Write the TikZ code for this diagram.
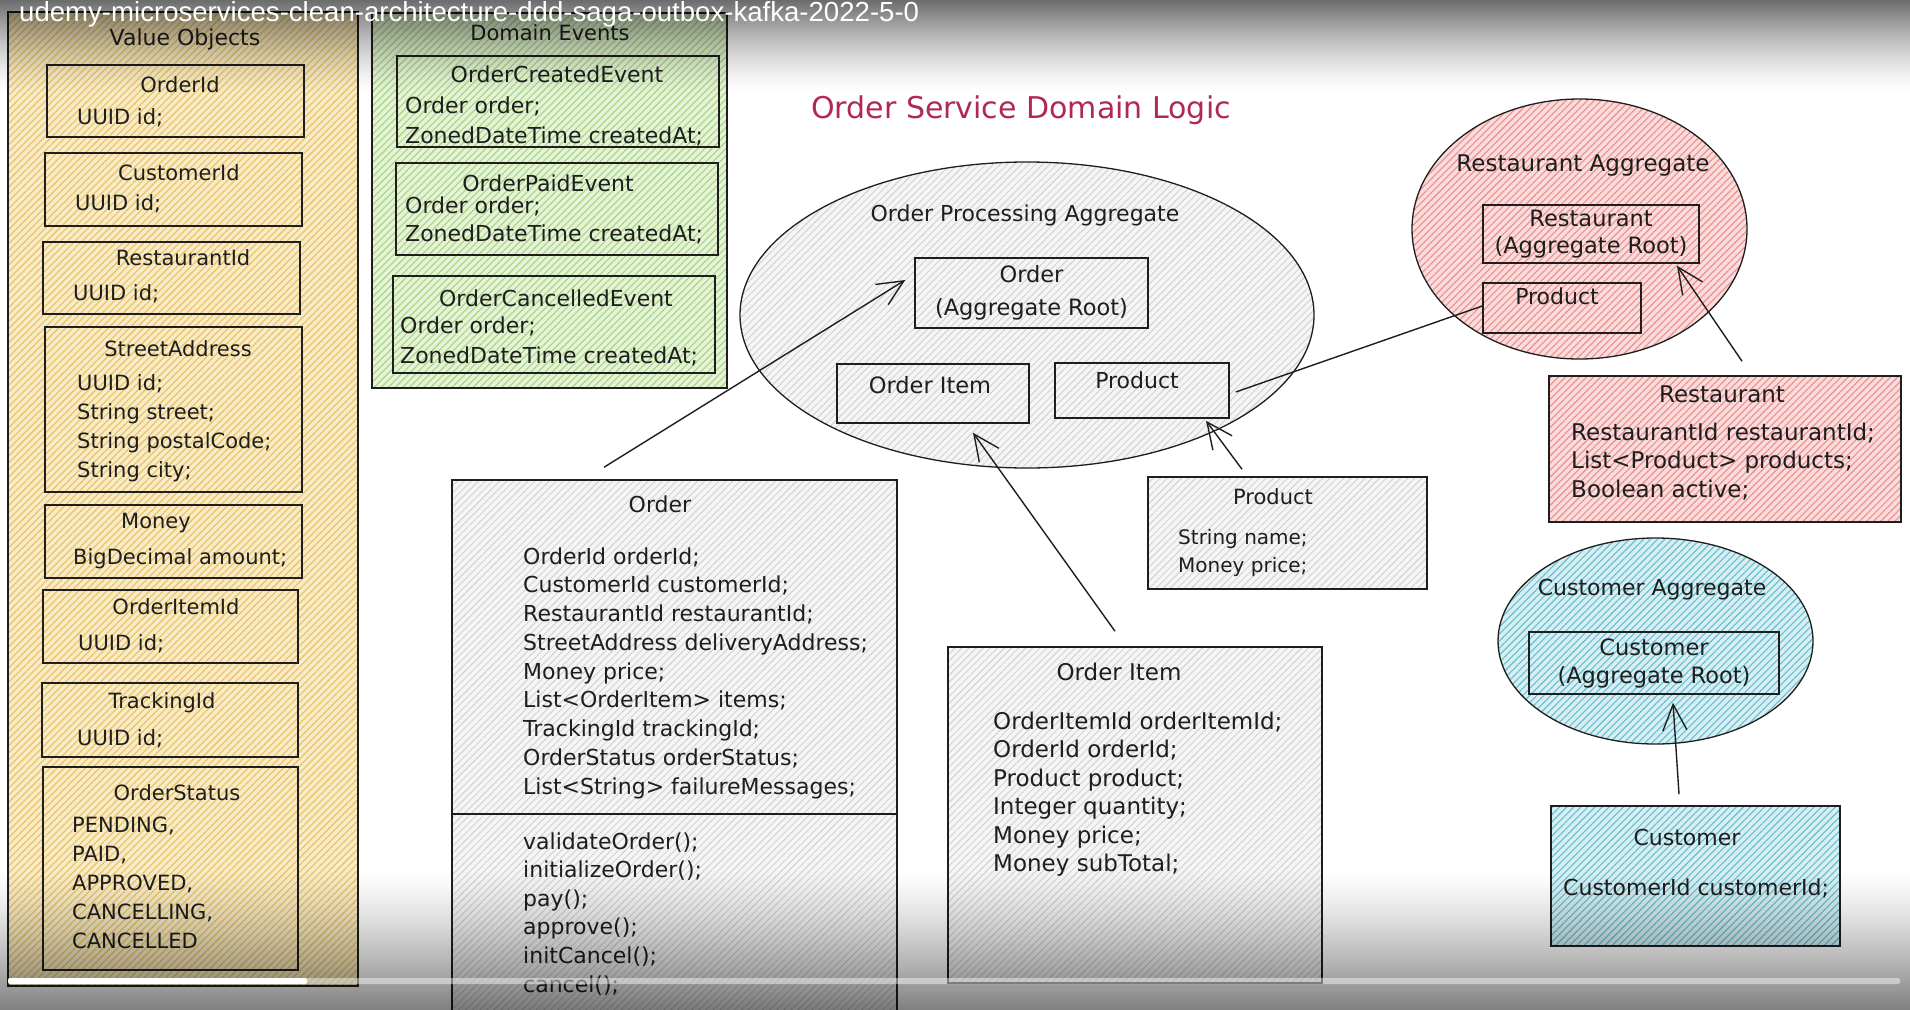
\documentclass[tikz,border=0pt]{standalone}
\usepackage{fontspec}
\usepackage{graphicx}
\setmainfont{DejaVu Sans}
\newfontfamily\uifont{Liberation Sans}
\usetikzlibrary{shapes.geometric,arrows.meta,patterns.meta}
\definecolor{ink}{HTML}{1E1E1E}
\definecolor{ybg}{HTML}{F7EBC8}
\definecolor{yh}{HTML}{EBC15E}
\definecolor{gbg}{HTML}{E6F3D9}
\definecolor{gh}{HTML}{A5D67E}
\definecolor{kbg}{HTML}{F5F5F5}
\definecolor{kh}{HTML}{CDCDCD}
\definecolor{pbg}{HTML}{FADCDC}
\definecolor{ph}{HTML}{EC8E8E}
\definecolor{cbg}{HTML}{D8EEF2}
\definecolor{ch}{HTML}{64BFD0}
\definecolor{crimson}{HTML}{B0285A}
\newcommand\fsz[2]{\fontsize{#1}{#2}\selectfont}
\tikzset{
  box/.style={draw=ink, line width=1.5pt, rectangle, inner sep=0pt},
  oval/.style={draw=ink, line width=1.3pt, ellipse, inner sep=0pt},
  hatchY/.style={preaction={fill=ybg}, pattern={Lines[angle=45,distance=5pt,line width=1.1pt]}, pattern color=yh},
  hatchG/.style={preaction={fill=gbg}, pattern={Lines[angle=45,distance=5pt,line width=1.1pt]}, pattern color=gh},
  hatchK/.style={preaction={fill=kbg}, pattern={Lines[angle=45,distance=5pt,line width=0.8pt]}, pattern color=kh},
  hatchP/.style={preaction={fill=pbg}, pattern={Lines[angle=45,distance=5pt,line width=1.1pt]}, pattern color=ph},
  hatchC/.style={preaction={fill=cbg}, pattern={Lines[angle=45,distance=5pt,line width=1.1pt]}, pattern color=ch},
  txt/.style={anchor=north west, align=left, inner sep=0pt, text=ink},
  ttl/.style={anchor=center, align=center, inner sep=0pt, text=ink},
  vof/.style={font=\fsz{21}{29}},
  def/.style={font=\fsz{22}{30}},
  arr/.style={draw=ink, line width=1.4pt, -{Straight Barb[length=26pt,width=24pt]}},
  plain/.style={draw=ink, line width=1.4pt},
}
\begin{document}
\begin{tikzpicture}[x=1pt,y=-1pt]
\useasboundingbox (0,0) rectangle (1910,1009);
\fill[white] (0,0) rectangle (1910,1009);

% ---------------- Value Objects ----------------
\node[box,hatchY,minimum width=350pt,minimum height=974pt] (vo) at (183,499) {};
\node[ttl,font=\fsz{22}{26}] (voT) at (185,39) {Value Objects};

\node[box,minimum width=257pt,minimum height=72pt] (b1) at (175.5,101) {};
\node[ttl,vof] (b1t) at (180,85) {OrderId};
\node[txt,vof] (b1f) at (77,108.6) {UUID id;};

\node[box,minimum width=257pt,minimum height=73pt] (b2) at (173.5,189.5) {};
\node[ttl,vof] (b2t) at (179,173) {CustomerId};
\node[txt,vof] (b2f) at (75,194.6) {UUID id;};

\node[box,minimum width=257pt,minimum height=72pt] (b3) at (171.5,278) {};
\node[ttl,vof] (b3t) at (183,258) {RestaurantId};
\node[txt,vof] (b3f) at (73,284.6) {UUID id;};

\node[box,minimum width=257pt,minimum height=165pt] (b4) at (173.5,409.5) {};
\node[ttl,vof] (b4t) at (178,349) {StreetAddress};
\node[txt,vof] (b4f) at (77,374.6) {UUID id;\\String street;\\String postalCode;\\String city;};

\node[box,minimum width=257pt,minimum height=73pt] (b5) at (173.5,541.5) {};
\node[ttl,vof] (b5t) at (156,523) {Money};
\node[txt,vof] (b5f) at (73,548.6) {BigDecimal amount;};

\node[box,minimum width=255pt,minimum height=73pt] (b6) at (170.5,626.5) {};
\node[ttl,vof] (b6t) at (176,607) {OrderItemId};
\node[txt,vof] (b6f) at (78,634.6) {UUID id;};

\node[box,minimum width=256pt,minimum height=74pt] (b7) at (170,720) {};
\node[ttl,vof] (b7t) at (162,703) {TrackingId};
\node[txt,vof] (b7f) at (77,729.6) {UUID id;};

\node[box,minimum width=255pt,minimum height=203pt] (b8) at (170.5,868.5) {};
\node[ttl,vof] (b8t) at (177,793) {OrderStatus};
\node[txt,vof] (b8f) at (72,816.6) {PENDING,\\PAID,\\APPROVED,\\CANCELLING,\\CANCELLED};

% ---------------- Domain Events ----------------
\node[box,hatchG,minimum width=355pt,minimum height=375pt] (de) at (549.5,200.5) {};
\node[ttl,font=\fsz{21}{25}] (deT) at (550,33) {Domain Events};

\node[box,minimum width=322pt,minimum height=91pt] (e1) at (558,101.5) {};
\node[ttl,def] (e1t) at (557,74) {OrderCreatedEvent};
\node[txt,def] (e1f) at (405,96.2) {Order order;\\ZonedDateTime createdAt;};

\node[box,minimum width=322pt,minimum height=92pt] (e2) at (557,209) {};
\node[ttl,def] (e2t) at (548,183) {OrderPaidEvent};
\node[txt,font=\fsz{22}{28}] (e2f) at (405,196.2) {Order order;\\ZonedDateTime createdAt;};

\node[box,minimum width=322pt,minimum height=97pt] (e3) at (554,324.5) {};
\node[ttl,def] (e3t) at (556,298) {OrderCancelledEvent};
\node[txt,def] (e3f) at (400,316.2) {Order order;\\ZonedDateTime createdAt;};

% ---------------- Title ----------------
\node[ttl,font=\fsz{30}{34},text=crimson] (title) at (1021,110) {Order Service Domain Logic};

% ---------------- Order Processing Aggregate ----------------
\node[oval,hatchK,minimum width=574pt,minimum height=306pt] (orderAgg) at (1027,315) {};
\node[ttl,font=\fsz{22}{26}] (orderAggT) at (1025,215) {Order Processing Aggregate};
\node[box,minimum width=233pt,minimum height=70pt,font=\fsz{22.5}{33},align=center,text=ink] (orderAR) at (1031.5,293) {Order\\(Aggregate Root)};
\node[box,minimum width=192pt,minimum height=59pt] (orderItemS) at (933,393.5) {};
\node[ttl,font=\fsz{22.5}{26}] (orderItemST) at (930,385) {Order Item};
\node[box,minimum width=174pt,minimum height=55pt] (productS) at (1142,390.5) {};
\node[ttl,font=\fsz{22}{26}] (productST) at (1137,380) {Product};

% ---------------- Restaurant Aggregate ----------------
\node[oval,hatchP,minimum width=335pt,minimum height=260pt] (restAgg) at (1579.5,229) {};
\node[ttl,font=\fsz{23}{27}] (restAggT) at (1583,166) {Restaurant Aggregate};
\node[box,minimum width=216pt,minimum height=58pt,font=\fsz{22.5}{27},align=center,text=ink] (restAR) at (1591,234) {Restaurant\\(Aggregate Root)};
\node[box,minimum width=158pt,minimum height=50pt] (restProd) at (1562,308) {};
\node[ttl,font=\fsz{22}{26}] (restProdT) at (1557,296) {Product};

\node[box,hatchP,minimum width=352pt,minimum height=146pt] (restE) at (1725,449) {};
\node[ttl,font=\fsz{23}{27}] (restET) at (1722,394) {Restaurant};
\node[txt,font=\fsz{23}{28.5}] (restEF) at (1571,422.8) {RestaurantId restaurantId;\\List<Product> products;\\Boolean active;};

% ---------------- Customer Aggregate ----------------
\node[oval,hatchC,minimum width=315pt,minimum height=206pt] (custAgg) at (1655.5,641) {};
\node[ttl,font=\fsz{22}{26}] (custAggT) at (1652,590) {Customer Aggregate};
\node[box,minimum width=250pt,minimum height=62pt,font=\fsz{22.5}{28},align=center,text=ink] (custAR) at (1654,663) {Customer\\(Aggregate Root)};

\node[box,hatchC,minimum width=289pt,minimum height=140pt] (custE) at (1695.5,876) {};
\node[ttl,font=\fsz{22}{26}] (custET) at (1687,837) {Customer};
\node[txt,font=\fsz{22}{28}] (custEF) at (1563,878.2) {CustomerId customerId;};

% ---------------- Product entity ----------------
\node[box,hatchK,minimum width=279pt,minimum height=112pt] (productE) at (1287.5,533) {};
\node[ttl,font=\fsz{21}{25}] (productET) at (1273,497) {Product};
\node[txt,font=\fsz{20}{28}] (productEF) at (1178,529) {String name;\\Money price;};

% ---------------- Order entity ----------------
\node[box,hatchK,minimum width=445pt,minimum height=560pt] (orderE) at (674.5,760) {};
\draw[plain] (452,814) -- (897,814);
\node[ttl,font=\fsz{22}{26}] (orderET) at (660,504) {Order};
\node[txt,font=\fsz{22}{28.75}] (orderEF) at (523,547.2) {OrderId orderId;\\CustomerId customerId;\\RestaurantId restaurantId;\\StreetAddress deliveryAddress;\\Money price;\\List<OrderItem> items;\\TrackingId trackingId;\\OrderStatus orderStatus;\\List<String> failureMessages;};
\node[txt,font=\fsz{22}{28.6}] (orderEM) at (523,832.2) {validateOrder();\\initializeOrder();\\pay();\\approve();\\initCancel();\\cancel();};

% ---------------- Order Item entity ----------------
\node[box,hatchK,minimum width=374pt,minimum height=336pt] (orderItemE) at (1135,815) {};
\node[ttl,font=\fsz{23}{27}] (orderItemET) at (1119,672) {Order Item};
\node[txt,font=\fsz{23}{28.4}] (orderItemEF) at (993,711.8) {OrderItemId orderItemId;\\OrderId orderId;\\Product product;\\Integer quantity;\\Money price;\\Money subTotal;};

% ---------------- Connectors ----------------
\draw[arr] ([shift={(-70.5,-12)}]orderE.north) -- ([shift={(-9,-13)}]orderAR.west);
\draw[arr] ([shift={(-20,-15)}]orderItemE.north) -- ([shift={(40,9)}]orderItemS.south);
\draw[arr] ([shift={(-45.5,-7)}]productE.north) -- ([shift={(64,2)}]productS.south);
\draw[plain] ([shift={(6,1.5)}]productS.east) -- ([shift={(0,-2)}]restProd.west);
\draw[arr] ([shift={(17,-14)}]restE.north) -- ([shift={(86,2)}]restAR.south);
\draw[arr] ([shift={(-16.5,-11)}]custE.north) -- ([shift={(19,8)}]custAR.south);

% ---------------- Video overlay (gradients as thin strips) ----------------
\foreach \i in {0,...,47} {
  \pgfmathsetmacro\op{0.58*(1-(\i+0.5)/48)^1.5}
  \fill[black,fill opacity=\op] (0,2*\i) rectangle (1910,2*\i+2);
}
\foreach \i in {0,...,69} {
  \pgfmathsetmacro\op{0.5*((\i+0.5)/70)^1.3}
  \fill[black,fill opacity=\op] (0,870+2*\i) rectangle (1910,872+2*\i);
}
\fill[white,fill opacity=0.45,rounded corners=2pt] (8,978) rectangle (1900,984);
\fill[white,rounded corners=2pt] (8,978) rectangle (307,984);
\node[anchor=base west,inner sep=0pt,text=white,font=\uifont\fsz{25}{28}] (hdr) at (19,21) {\resizebox{900pt}{!}{udemy-microservices-clean-architecture-ddd-saga-outbox-kafka-2022-5-0}};
\end{tikzpicture}
\end{document}
